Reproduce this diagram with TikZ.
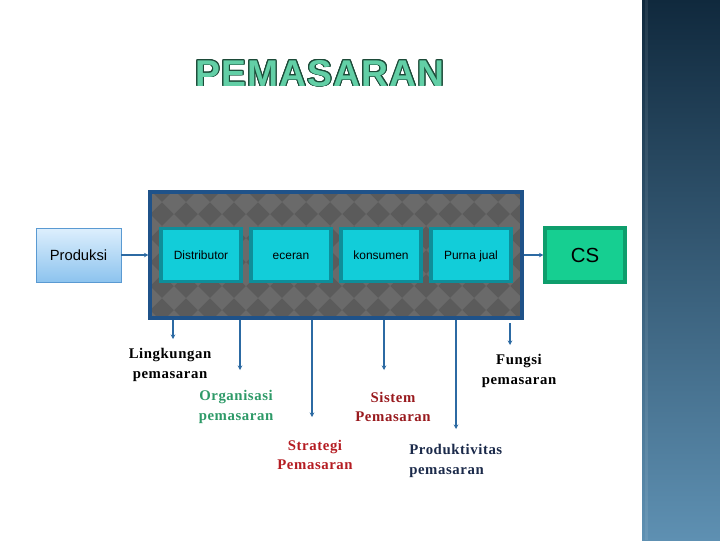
\documentclass[tikz,border=0pt]{standalone}
\usepackage{fontspec}
\setmainfont{Liberation Serif}
\newfontfamily\arialf{Liberation Sans}
\newfontfamily\titlef[LetterSpace=3]{Liberation Sans}
\newfontfamily\lblfont[LetterSpace=4]{Liberation Serif}
\usepackage{contour}
\contourlength{0.55pt}
\usetikzlibrary{arrows.meta}
\definecolor{barTop}{HTML}{10293D}
\definecolor{barBot}{HTML}{5E90B2}
\definecolor{frameGray}{HTML}{5B5B5B}
\definecolor{diaGray}{HTML}{6A6A6A}
\definecolor{frameBlue}{HTML}{1F5289}
\definecolor{cyanFill}{HTML}{12CDD9}
\definecolor{cyanEdge}{HTML}{0E8E9A}
\definecolor{csFill}{HTML}{16CF91}
\definecolor{csEdge}{HTML}{0E9E6C}
\definecolor{prodTop}{HTML}{DDEFFD}
\definecolor{prodBot}{HTML}{8CC3EE}
\definecolor{prodEdge}{HTML}{5A9AD2}
\definecolor{conBlue}{HTML}{2C6AA3}
\definecolor{titleGreen}{HTML}{62CFA6}
\definecolor{titleEdge}{HTML}{1C4A38}
\definecolor{orgGreen}{HTML}{2E9A68}
\definecolor{stratRed}{HTML}{B51C22}
\definecolor{sisRed}{HTML}{991A1E}
\definecolor{prodNavy}{HTML}{1B2A4A}
\begin{document}
\begin{tikzpicture}[x=0.025cm,y=-0.025cm,
  inbox/.style={draw=cyanEdge,line width=2.2pt,fill=cyanFill,inner sep=0pt,text height=6pt,text depth=0pt,minimum width=80*0.025cm,minimum height=53*0.025cm,font=\arialf\fontsize{8.5}{10}\selectfont},
  conn/.style={draw=conBlue,line width=1.4pt,-{Stealth[length=3.2pt,width=3.2pt]}},
  lbl/.style={align=center,font=\lblfont\bfseries\fontsize{10.5}{14}\selectfont,inner sep=0pt}]
\useasboundingbox (0,0) rectangle (720,540);
\fill[white] (0,0) rectangle (720,540);
% right bar
\shade[top color=barTop,bottom color=barBot] (642,0) rectangle (720,540);
\fill[white,opacity=0.08] (645,0) rectangle (648,540);
% title
\node[anchor=base,inner sep=0pt] (title) at (320,86) {\titlef\bfseries\fontsize{26.5}{28}\selectfont\contour{titleEdge}{\textcolor{titleGreen}{PEMASARAN}}};
% frame
\node[draw=frameBlue,line width=2.2pt,fill=frameGray,minimum width=372*0.025cm,minimum height=126*0.025cm,inner sep=0pt] (frame) at (336,255) {};
\begin{scope}
\clip (150,192) rectangle (522,318);
\foreach \i in {0,...,16} {
  \foreach \j in {0,...,6} {
    \fill[diaGray] ({150+24*\i},{190+24*\j}) -- ++(12,12) -- ++(-12,12) -- ++(-12,-12) -- cycle;
  }
}
\end{scope}
\draw[frameBlue,line width=2.2pt] (150,192) rectangle (522,318);
% inner boxes
\node[inbox] (dist) at (201,255) {Distributor};
\node[inbox] (ecer) at (291,255) {eceran};
\node[inbox] (kons) at (381,255) {konsumen};
\node[inbox] (purna) at (471,255) {Purna jual};
% produksi
\node[draw=prodEdge,line width=0.6pt,top color=prodTop,bottom color=prodBot,minimum width=85*0.025cm,minimum height=54*0.025cm,inner sep=0pt,text height=7.5pt,text depth=0pt,font=\arialf\fontsize{10.5}{12}\selectfont] (prod) at (78.5,255) {Produksi};
% CS
\node[draw=csEdge,line width=2.2pt,fill=csFill,minimum width=80*0.025cm,minimum height=54*0.025cm,inner sep=0pt,text height=10.5pt,text depth=0pt,font=\arialf\fontsize{14.5}{16}\selectfont] (cs) at (585,255) {CS};
\draw[conn] (prod.east) -- (frame.west);
\draw[conn] (frame.east) -- (cs.west);
% down connectors
\coordinate (e1) at (173,339);
\coordinate (e2) at (240,370);
\coordinate (e3) at (312,417);
\coordinate (e4) at (384,370);
\coordinate (e5) at (456,429);
\coordinate (s6) at (510,323);
\coordinate (e6) at (510,345);
\draw[conn] (frame.south -| e1) -- (e1);
\draw[conn] (frame.south -| e2) -- (e2);
\draw[conn] (frame.south -| e3) -- (e3);
\draw[conn] (frame.south -| e4) -- (e4);
\draw[conn] (frame.south -| e5) -- (e5);
\draw[conn] (s6) -- (e6);
% labels
\node[lbl] (l1) at (170,365) {Lingkungan\\pemasaran};
\node[lbl,text=orgGreen] (l2) at (236,407) {Organisasi\\pemasaran};
\node[lbl,text=stratRed] (l3) at (315,455) {Strategi\\Pemasaran};
\node[lbl,text=sisRed] (l4) at (393,407) {Sistem\\Pemasaran};
\node[lbl,text=prodNavy,align=left,anchor=west] (l5) at (409,461) {Produktivitas\\pemasaran};
\node[lbl] (l6) at (519,371) {Fungsi\\pemasaran};
\end{tikzpicture}
\end{document}
